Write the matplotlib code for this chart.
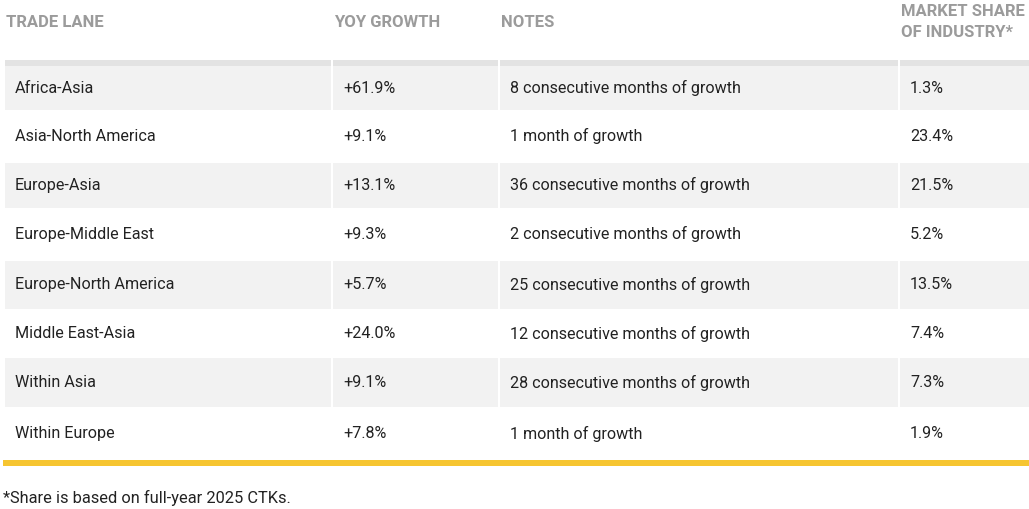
import matplotlib
matplotlib.use('Agg')
import matplotlib.pyplot as plt
from matplotlib.patches import Rectangle

# table content
headers = ["TRADE LANE", "YOY GROWTH", "NOTES", "MARKET SHARE\nOF INDUSTRY*"]
lanes = ["Africa-Asia", "Asia-North America", "Europe-Asia", "Europe-Middle East",
         "Europe-North America", "Middle East-Asia", "Within Asia", "Within Europe"]
yoy_growth = [61.9, 9.1, 13.1, 9.3, 5.7, 24.0, 9.1, 7.8]
notes = ["8 consecutive months of growth", "1 month of growth",
         "36 consecutive months of growth", "2 consecutive months of growth",
         "25 consecutive months of growth", "12 consecutive months of growth",
         "28 consecutive months of growth", "1 month of growth"]
market_share = [1.3, 23.4, 21.5, 5.2, 13.5, 7.4, 7.3, 1.9]
footnote = "*Share is based on full-year 2025 CTKs."

# layout in pixel units
W, H = 1029, 509
col_edges = [5, 333, 500, 900, 1029]
gap = 2.5
row_edges = [66, 110, 162.5, 208, 260.5, 309, 358, 407, 460]

plt.rcParams['font.family'] = ['Roboto', 'DejaVu Sans']

fig = plt.figure(figsize=(W / 100, H / 100), dpi=100)
ax = fig.add_axes([0, 0, 1, 1])
ax.set_xlim(0, W)
ax.set_ylim(H, 0)
ax.axis('off')

# header
for j, h in enumerate(headers):
    ax.text(col_edges[j] + 1, 22, h, fontsize=12, fontweight='bold', color='#9b9b9b',
            va='center', ha='left', linespacing=1.5)

# top band
for j in range(4):
    right = col_edges[j + 1] - gap if j < 3 else col_edges[j + 1]
    ax.add_patch(Rectangle((col_edges[j], 60), right - col_edges[j], 6,
                           facecolor='#e3e3e3', edgecolor='none'))

# rows
for i, lane in enumerate(lanes):
    y0, y1 = row_edges[i], row_edges[i + 1]
    if i % 2 == 0:
        for j in range(4):
            right = col_edges[j + 1] - gap if j < 3 else col_edges[j + 1]
            ax.add_patch(Rectangle((col_edges[j], y0), right - col_edges[j], y1 - y0,
                                   facecolor='#f2f2f2', edgecolor='none'))
    yc = (y0 + y1) / 2
    cells = [lane, "+%.1f%%" % yoy_growth[i], notes[i], "%.1f%%" % market_share[i]]
    for j, c in enumerate(cells):
        ax.text(col_edges[j] + 10, yc, c, fontsize=11.6, color='#222222',
                va='center', ha='left')

# yellow rule
ax.add_patch(Rectangle((3, 460), W - 3, 6, facecolor='#f6c531', edgecolor='none'))

ax.text(3, 498, footnote, fontsize=11.8, color='#222222', va='center', ha='left')

fig.savefig('out.png', dpi=100)
